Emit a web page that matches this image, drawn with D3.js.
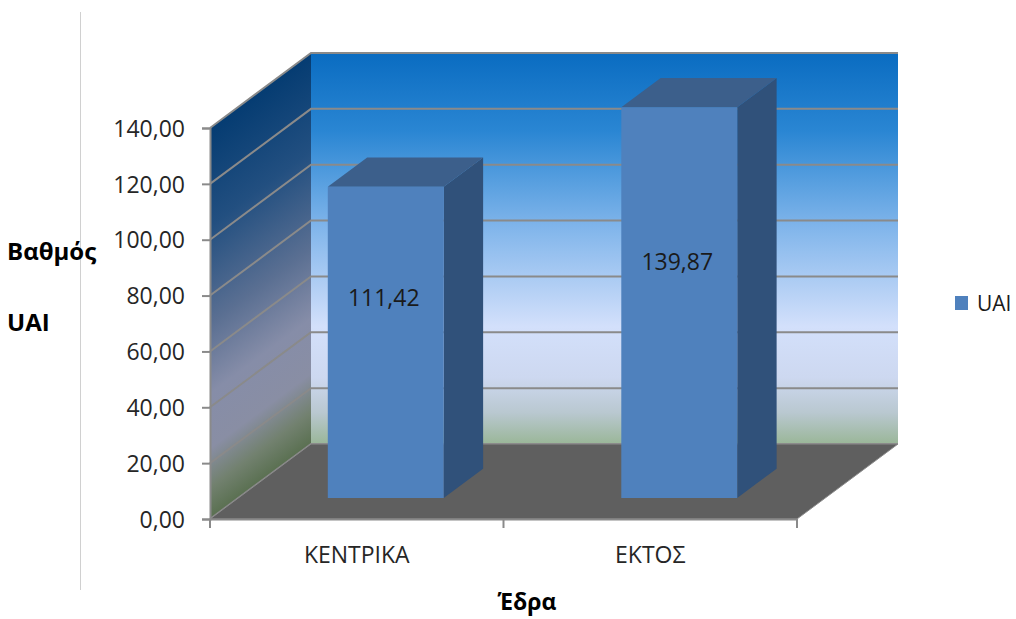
<!DOCTYPE html>
<html>
<head>
<meta charset="utf-8">
<script src="https://cdn.jsdelivr.net/npm/d3@7"></script>
<style>
  html, body { margin: 0; padding: 0; background: #fff; }
  svg { display: block; }
  text { font-family: "Open Sans", "Noto Sans", sans-serif; }
</style>
</head>
<body>
<svg id="chart" width="1016" height="619"></svg>
<script>
// Data
const categories = ["ΚΕΝΤΡΙΚΑ", "ΕΚΤΟΣ"];
const uaiValues = [111.42, 139.87];
const seriesName = "UAI";
const yTicks = [0, 20, 40, 60, 80, 100, 120, 140];
const yTitleLines = ["Βαθμός", "UAI"];
const xTitle = "Έδρα";

const svg = d3.select("#chart");

// Greek number format: comma decimal separator
const fmt = d3.formatLocale({ decimal: ",", thousands: ".", grouping: [3], currency: ["", "€"] }).format(".2f");

// Front plane scales
const y = d3.scaleLinear().domain([0, 140]).range([519, 128]);
const x = d3.scaleBand().domain(categories).range([210, 797]).padding(0);

// Oblique depth of the plot box
const depth = { dx: 101, dy: -75 };
const off = (f) => [depth.dx * f, depth.dy * f];

const defs = svg.append("defs");

// Back wall gradient
const gBack = defs.append("linearGradient").attr("id", "gBack")
  .attr("gradientUnits", "userSpaceOnUse")
  .attr("x1", 0).attr("y1", y(140) + depth.dy).attr("x2", 0).attr("y2", y(0) + depth.dy);
[[0, "#0a6cc1"], [0.2, "#2a86d3"], [0.45, "#82b6eb"], [0.7, "#d3e0fb"], [0.83, "#cdd8f0"], [0.92, "#b9c8d0"], [1, "#9ab698"]]
  .forEach(([o, c]) => gBack.append("stop").attr("offset", o).attr("stop-color", c));

// Side wall gradient, following the slant of the wall
const gSide = defs.append("linearGradient").attr("id", "gSide")
  .attr("gradientUnits", "userSpaceOnUse")
  .attr("x1", x.range()[0]).attr("y1", y(140))
  .attr("x2", x.range()[0] + 187).attr("y2", y(140) + 252);
[[0, "#053c72"], [0.25, "#224f80"], [0.5, "#5a6f92"], [0.68, "#868da8"], [0.82, "#898ea4"], [0.92, "#72816f"], [1, "#5a7051"]]
  .forEach(([o, c]) => gSide.append("stop").attr("offset", o).attr("stop-color", c));

const x0 = x.range()[0], x1 = x.range()[1];
const pts = (arr) => arr.map(p => p.join(",")).join(" ");

// Left separator line
svg.append("line").attr("x1", 80.5).attr("x2", 80.5).attr("y1", 12).attr("y2", 590)
  .attr("stroke", "#d0d0d0").attr("stroke-width", 1);

// Back wall
svg.append("polygon")
  .attr("points", pts([[x0 + depth.dx, y(140) + depth.dy], [x1 + depth.dx, y(140) + depth.dy],
                       [x1 + depth.dx, y(0) + depth.dy], [x0 + depth.dx, y(0) + depth.dy]]))
  .attr("fill", "url(#gBack)");

// Side wall
svg.append("polygon")
  .attr("points", pts([[x0, y(0)], [x0, y(140)], [x0 + depth.dx, y(140) + depth.dy], [x0 + depth.dx, y(0) + depth.dy]]))
  .attr("fill", "url(#gSide)");

// Gridlines on both walls
const grid = svg.append("g").attr("stroke", "#8a8a8a").attr("stroke-width", 2).attr("fill", "none");
yTicks.forEach(t => {
  const yy = y(t);
  grid.append("polyline")
    .attr("points", pts([[x0, yy], [x0 + depth.dx, yy + depth.dy], [x1 + depth.dx, yy + depth.dy]]));
});

// Floor
svg.append("polygon")
  .attr("points", pts([[x0, y(0)], [x1, y(0)], [x1 + depth.dx, y(0) + depth.dy], [x0 + depth.dx, y(0) + depth.dy]]))
  .attr("fill", "#5f5f5f")
  .attr("stroke", "#8c8c8c").attr("stroke-width", 1);

// Bars
const barFront = 0.28, barDepth = 0.39;
const bw = x.bandwidth();
const bars = svg.append("g");
categories.forEach((c, i) => {
  const v = uaiValues[i];
  const [fx, fy] = off(barFront);
  const [ddx, ddy] = off(barDepth);
  const bx0 = x(c) + 0.305 * bw + fx;
  const bx1 = x(c) + 0.70 * bw + fx;
  const yb = y(0) + fy;
  const yt = y(v) + fy;
  // side
  bars.append("polygon")
    .attr("points", pts([[bx1, yt], [bx1 + ddx, yt + ddy], [bx1 + ddx, yb + ddy], [bx1, yb]]))
    .attr("fill", "#30517a");
  // top
  bars.append("polygon")
    .attr("points", pts([[bx0, yt], [bx1, yt], [bx1 + ddx, yt + ddy], [bx0 + ddx, yt + ddy]]))
    .attr("fill", "#3c5f8b");
  // front
  bars.append("rect")
    .attr("x", bx0).attr("y", yt).attr("width", bx1 - bx0).attr("height", yb - yt)
    .attr("fill", "#4f81bd");
  // value label
  const h = y(0) - y(v);
  const ly = y(0) + depth.dy - 5 - 0.453 * h;
  bars.append("text")
    .attr("x", (bx0 + bx1) / 2 - 2).attr("y", ly).attr("dy", "0.36em")
    .attr("text-anchor", "middle").attr("font-size", 23).attr("fill", "#1a1a1a")
    .text(fmt(v));
});

// Value axis
const yAxisG = svg.append("g").attr("transform", `translate(${x0},0)`)
  .call(d3.axisLeft(y).tickValues(yTicks).tickSize(8).tickPadding(17).tickFormat(fmt));
yAxisG.select(".domain").attr("stroke", "#8a8a8a").attr("stroke-width", 2);
yAxisG.selectAll(".tick line").attr("stroke", "#8a8a8a").attr("stroke-width", 2);
yAxisG.selectAll(".tick text").attr("font-size", 23).attr("fill", "#262626")
  .attr("font-family", "'Open Sans', sans-serif").attr("dy", "0.36em");

// Category axis
const xAxisG = svg.append("g").attr("transform", `translate(0,${y(0)})`)
  .call(d3.axisBottom(x).tickSize(0).tickPadding(28));
xAxisG.select(".domain").attr("stroke", "#8a8a8a").attr("stroke-width", 2);
xAxisG.selectAll(".tick text").attr("font-size", 23).attr("fill", "#262626")
  .attr("font-family", "'Open Sans', sans-serif");
const bounds = [x0, ...categories.slice(1).map(c => x(c)), x1];
xAxisG.selectAll(".boundTick").data(bounds).enter().append("line")
  .attr("x1", d => d).attr("x2", d => d).attr("y1", 0).attr("y2", 9)
  .attr("stroke", "#8a8a8a").attr("stroke-width", 2);

// Axis titles
const yTitle = svg.append("g").attr("font-weight", "bold").attr("font-size", 24).attr("fill", "#000");
yTitle.append("text").attr("x", 7).attr("y", 260).text(yTitleLines[0]);
yTitle.append("text").attr("x", 7).attr("y", 331).text(yTitleLines[1]);
svg.append("text").attr("x", 527).attr("y", 610).attr("text-anchor", "middle")
  .attr("font-weight", "bold").attr("font-size", 23).attr("fill", "#000").text(xTitle);

// Legend
const lg = svg.append("g").attr("transform", "translate(955,296)");
lg.append("rect").attr("width", 13).attr("height", 14).attr("fill", "#4f81bd");
lg.append("text").attr("x", 22).attr("y", 7).attr("dy", "0.36em")
  .attr("font-size", 21).attr("fill", "#1a1a1a").text(seriesName);
</script>
</body>
</html>
